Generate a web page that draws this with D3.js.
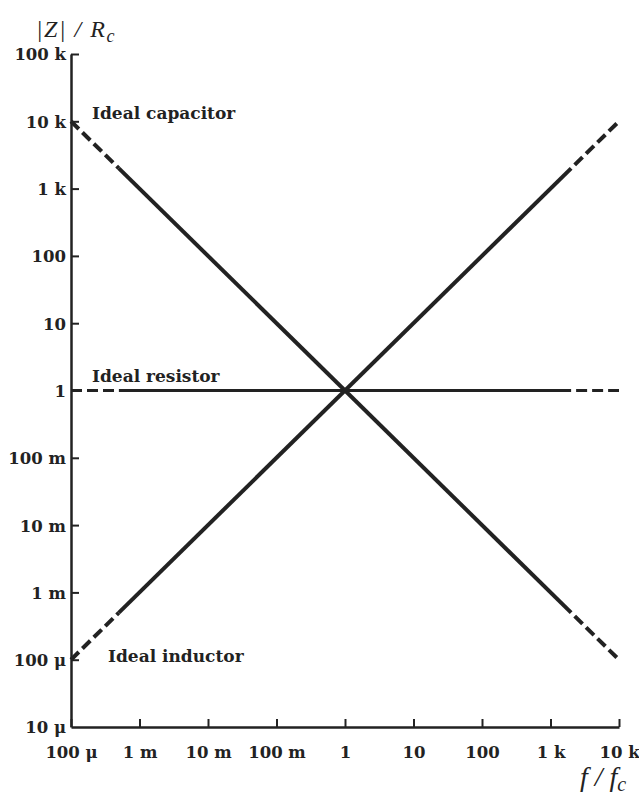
<!DOCTYPE html>
<html>
<head>
<meta charset="utf-8">
<script src="https://cdn.jsdelivr.net/npm/d3@7"></script>
<style>
  html, body { margin: 0; padding: 0; background: #fff; }
  svg { display: block; }
  .tick-label { font-family: "DejaVu Serif", serif; font-weight: bold; font-size: 16.5px; fill: #222; }
  .series-label { font-family: "DejaVu Serif", serif; font-weight: bold; font-size: 17px; fill: #222; }
  .axis-title { font-family: "Liberation Serif", "Times New Roman", serif; font-style: italic; fill: #222; }
</style>
</head>
<body>
<svg id="chart" width="639" height="796"></svg>
<script>
// Normalised frequency f/fc at the points where each trace changes style
const freqPoints = [1e-4, 5e-4, 2e3, 1e4];
// |Z|/Rc for each ideal element at those frequencies
const capacitorValues = [1e4, 2e3, 5e-4, 1e-4];
const resistorValues = [1, 1, 1, 1];
const inductorValues = [1e-4, 5e-4, 2e3, 1e4];
// Segment styles between consecutive points
const segmentStyles = ["dashed", "solid", "dashed"];

// Axis ticks and their labels
const xTickValues = [1e-4, 1e-3, 1e-2, 1e-1, 1, 1e1, 1e2, 1e3, 1e4];
const xTickLabels = ["100 \u03bc", "1 m", "10 m", "100 m", "1", "10", "100", "1 k", "10 k"];
const yTickValues = [1e-5, 1e-4, 1e-3, 1e-2, 1e-1, 1, 1e1, 1e2, 1e3, 1e4, 1e5];
const yTickLabels = ["10 \u03bc", "100 \u03bc", "1 m", "10 m", "100 m", "1", "10", "100", "1 k", "10 k", "100 k"];

const seriesNames = ["Ideal capacitor", "Ideal resistor", "Ideal inductor"];

const ink = "#222";
const svg = d3.select("#chart");

const x = d3.scaleLog().domain([1e-4, 1e4]).range([71, 619]);
const y = d3.scaleLog().domain([1e-5, 1e5]).range([727, 54]);

// Axes: ticks point into the plot area
const xAxis = d3.axisBottom(x)
  .tickValues(xTickValues)
  .tickSizeInner(-8)
  .tickSizeOuter(0)
  .tickFormat((d, i) => xTickLabels[i]);
const yAxis = d3.axisLeft(y)
  .tickValues(yTickValues)
  .tickSizeInner(-8)
  .tickSizeOuter(0)
  .tickFormat((d, i) => yTickLabels[i]);

const gx = svg.append("g").attr("transform", `translate(0,${y(1e-5)})`).call(xAxis);
const gy = svg.append("g").attr("transform", `translate(${x(1e-4)},0)`).call(yAxis);

[gx, gy].forEach(g => {
  g.select(".domain").attr("stroke", ink).attr("stroke-width", 2.5);
  g.selectAll(".tick line").attr("stroke", ink).attr("stroke-width", 2);
  g.selectAll(".tick text").attr("class", "tick-label").attr("fill", ink);
});
gx.selectAll(".tick text").attr("dy", 0).attr("y", 31);
gy.selectAll(".tick text").attr("x", -5).attr("dy", "0.36em");
// first y tick coincides with the x axis; hide its tick mark
gy.selectAll(".tick line").filter(d => d === 1e-5).remove();

// Traces
const line = d3.line().x(d => x(d[0])).y(d => y(d[1]));
const series = [
  { name: seriesNames[0], values: capacitorValues, width: 4, labelDx: 21, labelDy: -2 },
  { name: seriesNames[1], values: resistorValues, width: 3, labelDx: 21, labelDy: -9 },
  { name: seriesNames[2], values: inductorValues, width: 4, labelDx: 37, labelDy: 2 }
];

series.forEach(s => {
  const pts = freqPoints.map((f, i) => [f, s.values[i]]);
  segmentStyles.forEach((style, i) => {
    const p = svg.append("path")
      .datum([pts[i], pts[i + 1]])
      .attr("d", line)
      .attr("fill", "none")
      .attr("stroke", ink)
      .attr("stroke-width", s.width);
    if (style === "dashed") {
      p.attr("stroke-dasharray", "11,5");
      if (i > 0) p.attr("stroke-dashoffset", 11);
    }
  });
  // label sits beside the left end of its trace
  svg.append("text")
    .attr("class", "series-label")
    .attr("x", x(pts[0][0]) + s.labelDx)
    .attr("y", y(pts[0][1]) + s.labelDy)
    .text(s.name);
});

// Axis titles
const yTitle = svg.append("text").attr("class", "axis-title")
  .attr("x", 36).attr("y", 37).attr("font-size", 24).attr("letter-spacing", 1.5);
yTitle.append("tspan").text("|Z| / R");
yTitle.append("tspan").attr("dy", 5).attr("font-size", 18).attr("letter-spacing", 0).text("c");

const xTitle = svg.append("text").attr("class", "axis-title")
  .attr("x", 580).attr("y", 786).attr("font-size", 28);
xTitle.append("tspan").text("f / f");
xTitle.append("tspan").attr("dy", 5).attr("font-size", 20).text("c");
</script>
</body>
</html>
